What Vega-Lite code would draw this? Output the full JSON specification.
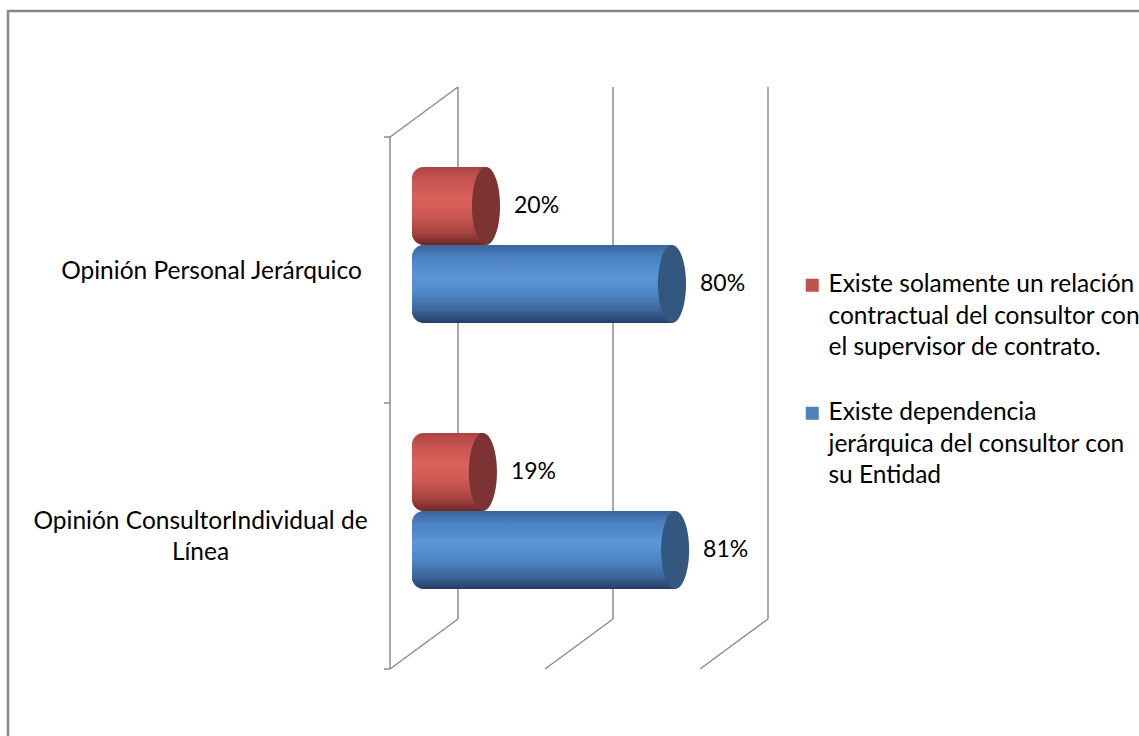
{
  "$schema": "https://vega.github.io/schema/vega-lite/v6.json",
  "width": 1200,
  "height": 734,
  "autosize": {"type": "none"},
  "padding": {"left": 8, "top": 11, "right": 0, "bottom": 0},
  "background": "#ffffff",
  "config": {
    "font": "Lato",
    "view": {"stroke": "#878787", "strokeWidth": 2.5},
    "style": {"guide-label": {"lineHeight": 31.5}}
  },
  "datasets": {
    "bars": [
      {"cat": "Opinión Personal Jerárquico", "serie": "Existe solamente un relación contractual del consultor con el supervisor de contrato.", "pct": 0.20},
      {"cat": "Opinión Personal Jerárquico", "serie": "Existe dependencia jerárquica del consultor con su Entidad", "pct": 0.80},
      {"cat": "Opinión ConsultorIndividual de Línea", "serie": "Existe solamente un relación contractual del consultor con el supervisor de contrato.", "pct": 0.19},
      {"cat": "Opinión ConsultorIndividual de Línea", "serie": "Existe dependencia jerárquica del consultor con su Entidad", "pct": 0.81}
    ],
    "grid": [{"v": 0}, {"v": 0.5}, {"v": 1}],
    "ticks": [{"t": 0}, {"t": 0.5}, {"t": 1}]
  },
  "resolve": {"scale": {"y": "independent"}},
  "layer": [
    {
      "layer": [
        {
          "data": {"name": "grid"},
          "mark": {"type": "rule", "color": "#8c8c8c", "strokeWidth": 1.5, "xOffset": 34, "yOffset": -25, "y2Offset": -25},
          "encoding": {
            "x": {"field": "v", "type": "quantitative", "scale": {"domain": [-1.34194, 2.52903], "nice": false, "zero": false}, "axis": null},
            "y": {"datum": 0, "type": "quantitative", "scale": {"domain": [-0.18985, 1.18985], "nice": false, "zero": false}, "axis": null},
            "y2": {"datum": 1}
          }
        },
        {
          "data": {"values": [{}]},
          "mark": {"type": "rule", "color": "#8c8c8c", "strokeWidth": 1.5, "xOffset": -34, "yOffset": 25, "y2Offset": 25},
          "encoding": {
            "x": {"datum": 0, "type": "quantitative", "axis": null},
            "y": {"datum": 0, "type": "quantitative", "axis": null},
            "y2": {"datum": 1}
          }
        },
        {
          "data": {"name": "ticks"},
          "mark": {"type": "rule", "color": "#8c8c8c", "strokeWidth": 1.5, "xOffset": -40, "x2Offset": -34, "yOffset": 25},
          "encoding": {
            "x": {"datum": 0, "type": "quantitative", "axis": null},
            "x2": {"datum": 0},
            "y": {"field": "t", "type": "quantitative", "axis": null}
          }
        },
        {
          "data": {"name": "grid"},
          "mark": {"type": "rule", "color": "#8c8c8c", "strokeWidth": 1.5, "xOffset": -34, "x2Offset": 34, "yOffset": 25, "y2Offset": -25},
          "encoding": {
            "x": {"field": "v", "type": "quantitative", "axis": null},
            "x2": {"field": "v"},
            "y": {"datum": 0, "type": "quantitative", "axis": null},
            "y2": {"datum": 0}
          }
        },
        {
          "data": {"values": [{}]},
          "mark": {"type": "rule", "color": "#8c8c8c", "strokeWidth": 1.5, "xOffset": -34, "x2Offset": 34, "yOffset": 25, "y2Offset": -25},
          "encoding": {
            "x": {"datum": 0, "type": "quantitative", "axis": null},
            "x2": {"datum": 0},
            "y": {"datum": 1, "type": "quantitative", "axis": null},
            "y2": {"datum": 1}
          }
        }
      ]
    },
    {
      "data": {"name": "bars"},
      "encoding": {
        "x": {"field": "pct", "type": "quantitative", "scale": {"domain": [-1.34194, 2.52903], "nice": false, "zero": false}, "axis": null},
        "y": {
          "field": "cat", "type": "nominal",
          "sort": ["Opinión Personal Jerárquico", "Opinión ConsultorIndividual de Línea"],
          "scale": {"paddingInner": 0, "paddingOuter": 0.3797},
          "axis": {
            "orient": "left", "title": null, "domain": false, "ticks": false, "tickSize": 0,
            "labelPadding": {"condition": {"test": "datum.value == 'Opinión ConsultorIndividual de Línea'", "value": -192}, "value": -203},
            "labelAlign": "center", "labelBaseline": "middle",
            "labelOffset": {"condition": {"test": "datum.value == 'Opinión ConsultorIndividual de Línea'", "value": 11}, "value": 27},
            "labelFont": "Lato", "labelFontSize": 24.5, "labelColor": "#000000", "labelLimit": 600,
            "labelExpr": "datum.label == 'Opinión ConsultorIndividual de Línea' ? ['Opinión ConsultorIndividual de', 'Línea'] : datum.label"
          }
        },
        "yOffset": {
          "field": "serie", "type": "nominal",
          "sort": ["Existe solamente un relación contractual del consultor con el supervisor de contrato.", "Existe dependencia jerárquica del consultor con su Entidad"],
          "scale": {"paddingInner": 0, "paddingOuter": 0.705}
        }
      },
      "layer": [
        {
          "mark": {"type": "bar", "x2Offset": -12, "cornerRadiusTopLeft": 12, "cornerRadiusBottomLeft": 12},
          "encoding": {
            "x2": {"datum": 0},
            "color": {
              "field": "serie", "type": "nominal",
              "scale": {"domain": ["Existe solamente un relación contractual del consultor con el supervisor de contrato.", "Existe dependencia jerárquica del consultor con su Entidad"], "range": ["#c0504d", "#4f81bd"]},
              "legend": {
                "orient": "none", "legendX": 792, "legendY": 262, "title": null,
                "symbolType": "square", "symbolSize": 169, "symbolStrokeWidth": 0,
                "labelFont": "Lato", "labelFontSize": 24.5, "labelColor": "#000000", "labelLimit": 800,
                "labelOffset": 4, "rowPadding": 40, "labelBaseline": "middle",
                "labelExpr": "datum.label == 'Existe solamente un relación contractual del consultor con el supervisor de contrato.' ? [' Existe solamente un relación', 'contractual del consultor con', 'el supervisor de contrato.'] : ['Existe dependencia', 'jerárquica del consultor con', 'su Entidad']"
              }
            }
          }
        },
        {
          "transform": [{"filter": "datum.serie == 'Existe solamente un relación contractual del consultor con el supervisor de contrato.'"}],
          "mark": {
            "type": "bar", "x2Offset": -12, "cornerRadiusTopLeft": 12, "cornerRadiusBottomLeft": 12,
            "color": {
              "gradient": "linear", "x1": 0, "y1": 0, "x2": 0, "y2": 1,
              "stops": [
                {"offset": 0, "color": "#a9443f"},
                {"offset": 0.15, "color": "#c65350"},
                {"offset": 0.4, "color": "#dc615d"},
                {"offset": 0.62, "color": "#cd5753"},
                {"offset": 0.85, "color": "#a5423f"},
                {"offset": 1, "color": "#6a2826"}
              ]
            }
          },
          "encoding": {"x2": {"datum": 0}}
        },
        {
          "transform": [{"filter": "datum.serie == 'Existe dependencia jerárquica del consultor con su Entidad'"}],
          "mark": {
            "type": "bar", "x2Offset": -12, "cornerRadiusTopLeft": 12, "cornerRadiusBottomLeft": 12,
            "color": {
              "gradient": "linear", "x1": 0, "y1": 0, "x2": 0, "y2": 1,
              "stops": [
                {"offset": 0, "color": "#3a659a"},
                {"offset": 0.15, "color": "#4a80c0"},
                {"offset": 0.4, "color": "#5b96d8"},
                {"offset": 0.62, "color": "#4f88c8"},
                {"offset": 0.85, "color": "#3a6399"},
                {"offset": 1, "color": "#233e65"}
              ]
            }
          },
          "encoding": {"x2": {"datum": 0}}
        },
        {
          "mark": {"type": "point", "shape": "M0,-1A0.36,1,0,1,1,0,1A0.36,1,0,1,1,0,-1Z", "size": 6084, "filled": true, "opacity": 1, "strokeWidth": 0},
          "encoding": {
            "fill": {
              "field": "serie", "type": "nominal",
              "scale": {"domain": ["Existe solamente un relación contractual del consultor con el supervisor de contrato.", "Existe dependencia jerárquica del consultor con su Entidad"], "range": ["#7b3431", "#34577f"]},
              "legend": null
            }
          }
        },
        {
          "mark": {"type": "text", "align": "left", "baseline": "middle", "dx": 28, "font": "Lato", "fontSize": 23, "color": "#000000"},
          "encoding": {
            "text": {"field": "pct", "type": "quantitative", "format": ".0%"}
          }
        }
      ]
    }
  ]
}
